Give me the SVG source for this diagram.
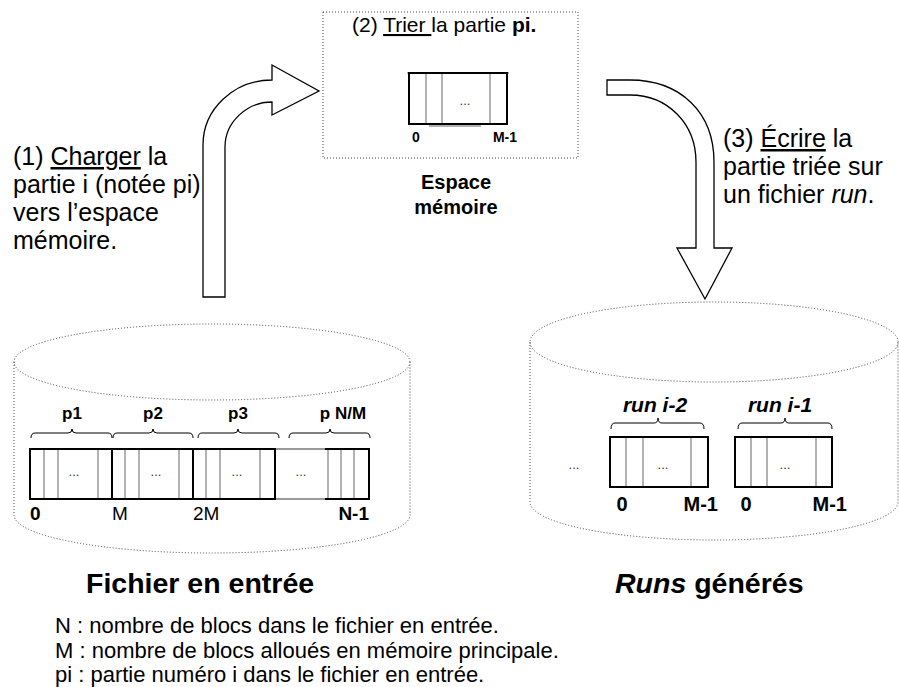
<svg xmlns="http://www.w3.org/2000/svg" width="899" height="687" viewBox="0 0 899 687">
<style>
text{font-family:"Liberation Sans",Arial,sans-serif;fill:#000}
.dot{fill:none;stroke:#444;stroke-width:1;stroke-dasharray:1 2}
.blk{fill:none;stroke:#000;stroke-width:2}
.gl{stroke:#999;stroke-width:1.5;fill:none}
.arr{fill:#fff;stroke:#000;stroke-width:1.3;stroke-linejoin:miter}
.br{fill:none;stroke:#000;stroke-width:1}
.b{font-weight:bold}
.dots{font-size:13px;fill:#333}
.ann{font-size:25px}
.leg{font-size:22px}
.u{text-decoration:underline}
</style>

<g id="memory">
<rect class="dot" x="323" y="12" width="255" height="146"/>
<text x="352" y="32" style="font-size:21px">(2) <tspan class="u">Trier </tspan>la partie <tspan class="b">pi.</tspan></text>
<line class="gl" x1="407" y1="73" x2="509" y2="73"/>
<line class="gl" x1="429" y1="126" x2="481" y2="126"/>
<rect class="blk" x="409" y="73" width="98" height="51"/>
<line class="gl" x1="426" y1="74" x2="426" y2="123"/>
<line class="gl" x1="442" y1="74" x2="442" y2="123"/>
<line class="gl" x1="490" y1="74" x2="490" y2="123"/>
<text class="dots" x="465" y="105" text-anchor="middle">...</text>
<text class="b" x="416" y="142" text-anchor="middle" style="font-size:14px">0</text>
<text class="b" x="517" y="142" text-anchor="end" style="font-size:14px">M-1</text>
<text class="b" x="456" y="189" text-anchor="middle" style="font-size:20px">Espace</text>
<text class="b" x="456" y="214" text-anchor="middle" style="font-size:20px">mémoire</text>
</g>

<g id="input-file">
<path class="dot" d="M14,362 V515 A198,38 0 0 0 410,515 V362"/>
<ellipse class="dot" cx="212" cy="362" rx="198" ry="38"/>
<rect x="30" y="449" width="339" height="50" fill="none" stroke="#999" stroke-width="2"/>
<g class="gl">
<line x1="44" y1="450" x2="44" y2="498"/><line x1="58" y1="450" x2="58" y2="498"/><line x1="98" y1="450" x2="98" y2="498"/>
<line x1="125" y1="450" x2="125" y2="498"/><line x1="139" y1="450" x2="139" y2="498"/><line x1="179" y1="450" x2="179" y2="498"/>
<line x1="206" y1="450" x2="206" y2="498"/><line x1="220" y1="450" x2="220" y2="498"/><line x1="260" y1="450" x2="260" y2="498"/>
<line x1="328" y1="450" x2="328" y2="498"/><line x1="341" y1="450" x2="341" y2="498"/><line x1="354" y1="450" x2="354" y2="498"/>
</g>
<rect class="blk" x="30" y="449" width="82" height="50"/>
<rect class="blk" x="112" y="449" width="81" height="50"/>
<rect class="blk" x="193" y="449" width="82" height="50"/>
<path class="blk" d="M325,449 H369 V499 H325"/>
<text class="dots" x="74" y="476" text-anchor="middle">...</text>
<text class="dots" x="156" y="476" text-anchor="middle">...</text>
<text class="dots" x="237" y="476" text-anchor="middle">...</text>
<text class="dots" x="301" y="476" text-anchor="middle">...</text>
<path class="br" d="M31,438 Q31,433 35,433 H68 Q72,433 72,429 Q72,433 76,433 H108 Q112,433 112,438"/>
<path class="br" d="M113,438 Q113,433 117,433 H149 Q153,433 153,429 Q153,433 157,433 H189 Q193,433 193,438"/>
<path class="br" d="M198,438 Q198,433 202,433 H234 Q238,433 238,429 Q238,433 242,433 H275 Q279,433 279,438"/>
<path class="br" d="M289,438 Q289,433 293,433 H326 Q330,433 330,429 Q330,433 334,433 H366 Q370,433 370,438"/>
<text class="b" x="72" y="419" text-anchor="middle" style="font-size:17px">p1</text>
<text class="b" x="153" y="419" text-anchor="middle" style="font-size:17px">p2</text>
<text class="b" x="238" y="419" text-anchor="middle" style="font-size:17px">p3</text>
<text class="b" x="343" y="419" text-anchor="middle" style="font-size:17px">p N/M</text>
<text class="b" x="30" y="520" style="font-size:19px">0</text>
<text x="112" y="520" style="font-size:19px">M</text>
<text x="193" y="520" style="font-size:19px">2M</text>
<text class="b" x="369" y="520" text-anchor="end" style="font-size:19px">N-1</text>
<text class="b" x="86" y="593" style="font-size:28.5px">Fichier en entrée</text>
</g>

<g id="runs">
<path class="dot" d="M530,342 V502 A184,38 0 0 0 898,502 V342"/>
<ellipse class="dot" cx="714" cy="342" rx="184" ry="40"/>
<text class="dots" x="574" y="469" text-anchor="middle">...</text>
<g class="gl">
<line x1="626" y1="438" x2="626" y2="486"/><line x1="643" y1="438" x2="643" y2="486"/><line x1="691" y1="438" x2="691" y2="486"/>
<line x1="751" y1="438" x2="751" y2="486"/><line x1="767" y1="438" x2="767" y2="486"/><line x1="816" y1="438" x2="816" y2="486"/>
</g>
<rect class="blk" x="610" y="437" width="98" height="50"/>
<rect class="blk" x="735" y="437" width="97" height="50"/>
<text class="dots" x="663" y="469" text-anchor="middle">...</text>
<text class="dots" x="785" y="469" text-anchor="middle">...</text>
<path class="br" d="M611,429 Q611,423 615,423 H654 Q658,423 658,418 Q658,423 662,423 H700 Q704,423 704,429"/>
<path class="br" d="M738,429 Q738,423 742,423 H781 Q785,423 785,418 Q785,423 789,423 H828 Q832,423 832,429"/>
<text class="b" x="655" y="412" text-anchor="middle" style="font-size:21px;font-style:italic">run i-2</text>
<text class="b" x="780" y="412" text-anchor="middle" style="font-size:21px;font-style:italic">run i-1</text>
<text class="b" x="622" y="511" text-anchor="middle" style="font-size:20px">0</text>
<text class="b" x="718" y="511" text-anchor="end" style="font-size:20px">M-1</text>
<text class="b" x="746" y="511" text-anchor="middle" style="font-size:20px">0</text>
<text class="b" x="847" y="511" text-anchor="end" style="font-size:20px">M-1</text>
<text class="b" x="615" y="593" style="font-size:28.5px"><tspan font-style="italic">Runs</tspan> générés</text>
</g>

<g id="connectors">
<path class="arr" d="M203,297 V145 C203,109 234,80 272,80 V65 L319,91 L272,115 V102 C247,102 225,122 225,147 V297 Z"/>
<path class="arr" d="M607,80 H630 C680,80 714,112 714,162 V248 H732 L705,299 L677,248 H696 V162 C696,124 668,95 630,95 H607 Z"/>
</g>

<g id="annotations">
<text class="ann" x="13" y="165">(1) <tspan class="u">Charger</tspan> la</text>
<text class="ann" x="13" y="193">partie i (notée pi)</text>
<text class="ann" x="13" y="221">vers l’espace</text>
<text class="ann" x="13" y="249">mémoire.</text>
<text class="ann" x="723" y="147">(3) <tspan class="u">Écrire</tspan> la</text>
<text class="ann" x="723" y="175">partie triée sur</text>
<text class="ann" x="723" y="203">un fichier <tspan font-style="italic">run</tspan>.</text>
</g>

<g id="legend">
<text class="leg" x="55" y="633">N : nombre de blocs dans le fichier en entrée.</text>
<text class="leg" x="55" y="657.5">M : nombre de blocs alloués en mémoire principale.</text>
<text class="leg" x="55" y="682">pi : partie numéro i dans le fichier en entrée.</text>
</g>
</svg>
